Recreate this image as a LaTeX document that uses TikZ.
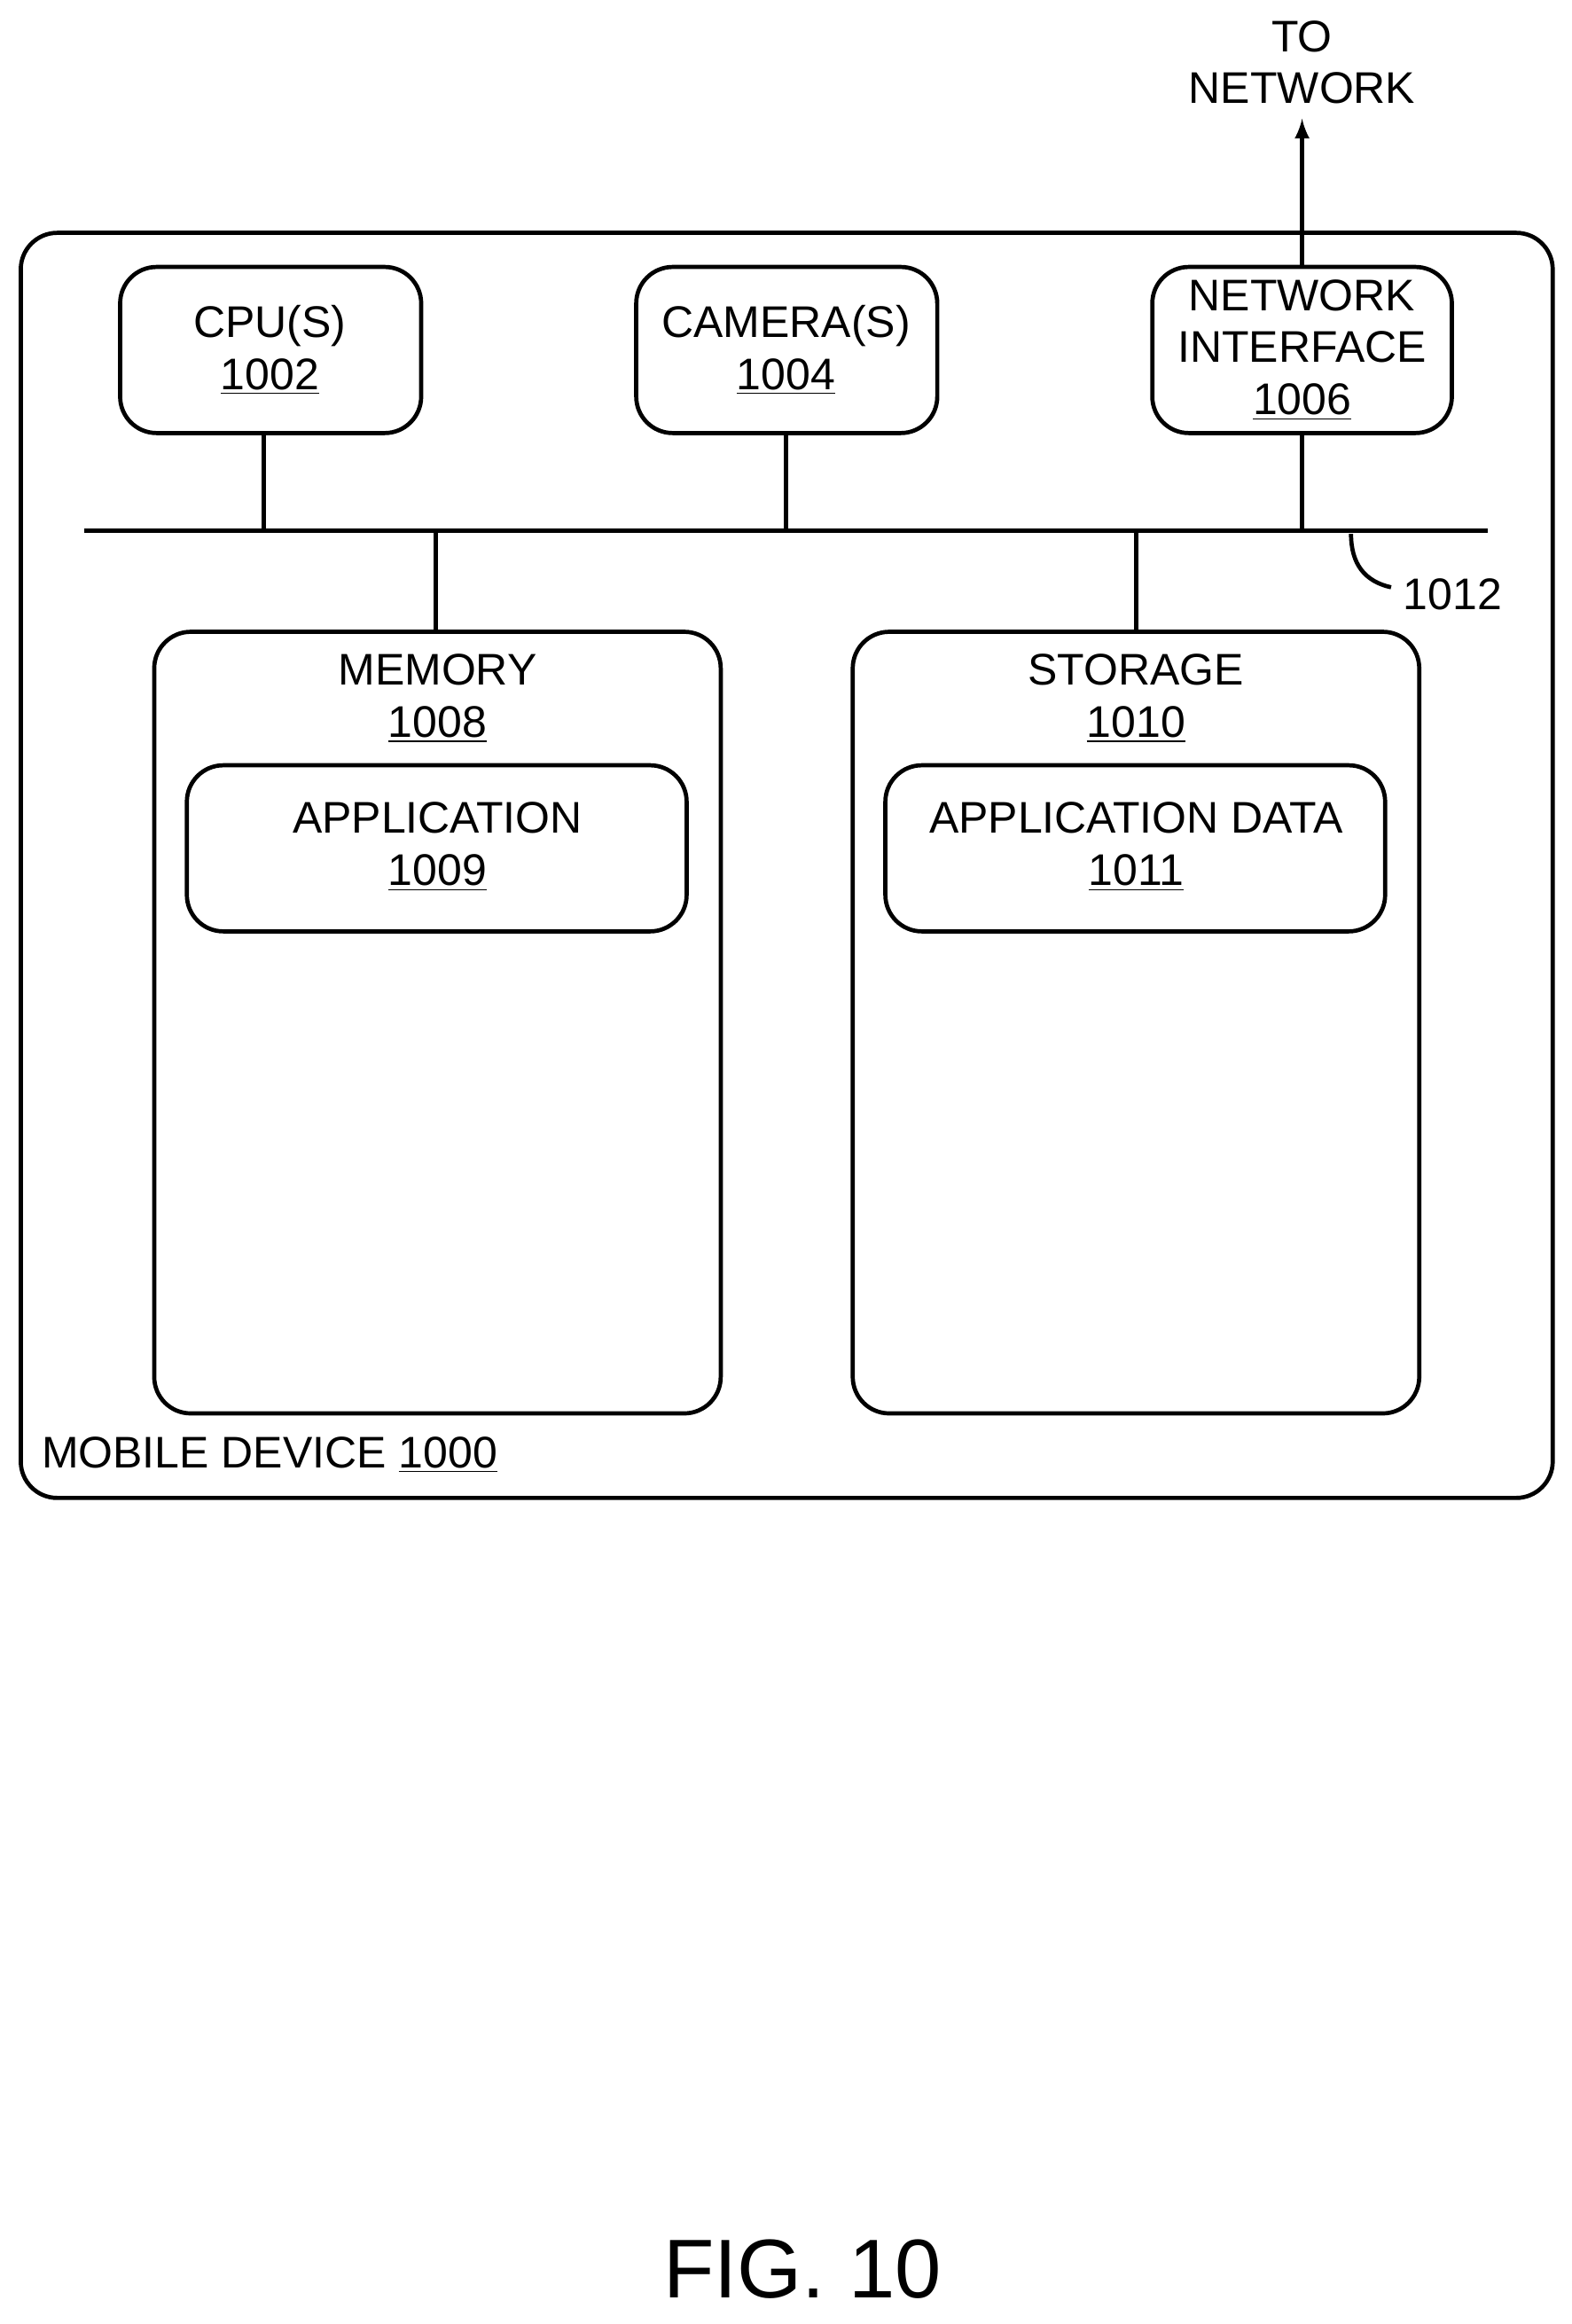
\documentclass[tikz,border=0pt]{standalone}
\usepackage{fontspec}
\setmainfont{Liberation Sans}
\usetikzlibrary{positioning}
\tikzset{
  box/.style={draw,line width=1.6pt,rounded corners=14pt,anchor=north west},
  lbl/.style={font=\fontsize{17}{20}\selectfont,align=center},
  wire/.style={line width=1.6pt}
}
\newcommand{\ul}[1]{\underline{#1}}
\begin{document}
\begin{tikzpicture}[x=0.02cm,y=-0.02cm]
\useasboundingbox (0,0) rectangle (1060,1567);
% outer device
\draw[line width=1.6pt,rounded corners=14pt] (14,157) rectangle (1047,1010);
\node[lbl,anchor=west] (dev) at (22,981) {MOBILE DEVICE \ul{1000}};
% top units
\draw[line width=1.6pt,rounded corners=14pt] (81,180) rectangle (284,292);
\node[lbl] (cpu) at (182,236) {CPU(S)\\\ul{1002}};
\draw[line width=1.6pt,rounded corners=14pt] (429,180) rectangle (632,292);
\node[lbl] (cam) at (530,236) {CAMERA(S)\\\ul{1004}};
\draw[line width=1.6pt,rounded corners=14pt] (777,180) rectangle (979,292);
\node[lbl] (net) at (878,236) {NETWORK\\INTERFACE\\\ul{1006}};
% bus
\coordinate (busL) at (57,358);
\coordinate (busR) at (1003,358);
\draw[wire] (busL) -- (busR);
\draw[wire] (178,292) -- (178,358);
\draw[wire] (530,292) -- (530,358);
\draw[wire] (878,292) -- (878,358);
\draw[wire] (294,358) -- (294,426);
\draw[wire] (766,358) -- (766,426);
\draw[wire,-latex] (878,180) -- (878,80);
\node[lbl] (tonet) at (878,42) {TO\\NETWORK};
\draw[wire] (911,360) .. controls (911,380) and (920,392) .. (938,396);
\node[lbl,anchor=west] (bus) at (940,401) {1012};
% memory
\draw[line width=1.6pt,rounded corners=14pt] (104,426) rectangle (486,953);
\node[lbl] (mem) at (295,471) {MEMORY\\\ul{1008}};
\draw[line width=1.6pt,rounded corners=14pt] (126,516) rectangle (463,628);
\node[lbl] (app) at (295,571) {APPLICATION\\\ul{1009}};
% storage
\draw[line width=1.6pt,rounded corners=14pt] (575,426) rectangle (957,953);
\node[lbl] (sto) at (766,471) {STORAGE\\\ul{1010}};
\draw[line width=1.6pt,rounded corners=14pt] (597,516) rectangle (934,628);
\node[lbl] (appd) at (766,571) {APPLICATION DATA\\\ul{1011}};
\node[font=\fontsize{32}{36}\selectfont] (fig) at (541,1530) {FIG. 10};
\end{tikzpicture}
\end{document}
